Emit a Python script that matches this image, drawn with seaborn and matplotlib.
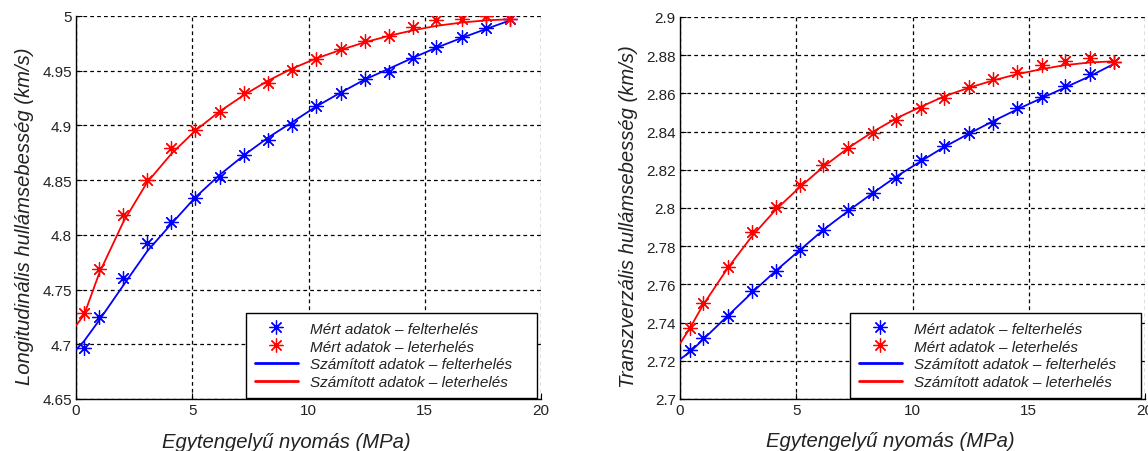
import matplotlib
matplotlib.use("Agg")
import matplotlib.pyplot as plt
from matplotlib.lines import Line2D
import numpy as np
import pandas as pd
import seaborn as sns

# --- Longitudinal wave velocity (km/s) vs. uniaxial pressure (MPa) ---
p_long = [0.35, 1.0, 2.04, 3.06, 4.1, 5.12, 6.19, 7.24, 8.27, 9.30,
          10.31, 11.38, 12.43, 13.48, 14.51, 15.5, 16.59, 17.62, 18.67]
vp_load_meas = [4.697, 4.725, 4.761, 4.793, 4.812, 4.834, 4.853, 4.873, 4.887, 4.900,
                4.918, 4.930, 4.942, 4.949, 4.962, 4.972, 4.981, 4.989, 4.997]
vp_unload_meas = [4.729, 4.769, 4.818, 4.850, 4.879, 4.896, 4.912, 4.930, 4.939, 4.951,
                  4.961, 4.970, 4.977, 4.982, 4.990, 4.996, 4.997, 5.000, 4.997]
p_long_calc = [0.0] + p_long
vp_load_calc = [4.695, 4.703, 4.722, 4.754, 4.785, 4.810, 4.834, 4.855, 4.873, 4.889, 4.903,
                4.917, 4.930, 4.942, 4.952, 4.962, 4.971, 4.980, 4.988, 4.996]
vp_unload_calc = [4.717, 4.727, 4.765, 4.812, 4.848, 4.874, 4.895, 4.913, 4.928, 4.941, 4.952,
                  4.961, 4.969, 4.976, 4.982, 4.987, 4.991, 4.994, 4.996, 4.997]

# --- Transverse wave velocity (km/s) vs. uniaxial pressure (MPa) ---
p_trans = [0.42, 0.98, 2.05, 3.08, 4.11, 5.16, 6.16, 7.24, 8.31, 9.31,
           10.36, 11.37, 12.44, 13.47, 14.48, 15.55, 16.55, 17.63, 18.67]
vs_load_meas = [2.7255, 2.7321, 2.7434, 2.7565, 2.7669, 2.7782, 2.7886, 2.7991, 2.8078, 2.8159,
                2.8249, 2.8322, 2.8395, 2.8443, 2.8521, 2.8582, 2.8640, 2.8704, 2.8765]
vs_unload_meas = [2.7373, 2.7504, 2.7690, 2.7873, 2.8003, 2.8120, 2.8226, 2.8316, 2.8395, 2.8460,
                  2.8525, 2.8577, 2.8631, 2.8678, 2.8713, 2.8747, 2.8768, 2.8786, 2.8765]
p_trans_calc = [0.0] + p_trans
vs_load_calc = [2.7208, 2.7245, 2.7310, 2.7435, 2.7555, 2.7670, 2.7780, 2.7885, 2.7985, 2.8080,
                2.8165, 2.8245, 2.8320, 2.8390, 2.8455, 2.8515, 2.8575, 2.8630, 2.8690, 2.8755]
vs_unload_calc = [2.7290, 2.7370, 2.7490, 2.7685, 2.7850, 2.7990, 2.8110, 2.8215, 2.8315, 2.8400,
                  2.8470, 2.8530, 2.8585, 2.8630, 2.8668, 2.8700, 2.8727, 2.8748, 2.8762, 2.8768]

x_ticks = [0, 5, 10, 15, 20]
y_ticks_long = [4.65, 4.7, 4.75, 4.8, 4.85, 4.9, 4.95, 5.0]
y_ticks_long_lbl = ["4.65", "4.7", "4.75", "4.8", "4.85", "4.9", "4.95", "5"]
y_ticks_trans = [2.70, 2.72, 2.74, 2.76, 2.78, 2.80, 2.82, 2.84, 2.86, 2.88, 2.90]
y_ticks_trans_lbl = ["2.7", "2.72", "2.74", "2.76", "2.78", "2.8", "2.82", "2.84",
                     "2.86", "2.88", "2.9"]

x_label = "Egytengelyű nyomás (MPa)"
y_label_long = "Longitudinális hullámsebesség (km/s)"
y_label_trans = "Transzverzális hullámsebesség (km/s)"
legend_labels = ["Mért adatok – felterhelés", "Mért adatok – leterhelés",
                 "Számított adatok – felterhelés", "Számított adatok – leterhelés"]

sns.set_theme(style="white")
plt.rcParams["font.family"] = ["Liberation Sans", "DejaVu Sans"]

ASTERISK = (8, 2, 0)
TEXT_COLOR = "#222222"

fig = plt.figure(figsize=(11.48, 4.52), dpi=100)
ax1 = fig.add_axes([76 / 1148, 52 / 452, 465 / 1148, 383 / 452])
ax2 = fig.add_axes([680 / 1148, 52 / 452, 465 / 1148, 382 / 452])


def draw_panel(ax, p_meas, load_meas, unload_meas, p_calc, load_calc, unload_calc,
               ylim, yticks, yticklabels, ylabel):
    sns.lineplot(x=p_calc, y=load_calc, ax=ax, color="blue", linewidth=1.3,
                 sort=False, zorder=3)
    sns.lineplot(x=p_calc, y=unload_calc, ax=ax, color="red", linewidth=1.3,
                 sort=False, zorder=3)
    sns.scatterplot(x=p_meas, y=load_meas, ax=ax, marker=ASTERISK, s=100,
                    color="blue", edgecolor="blue", linewidth=0.9, zorder=4)
    sns.scatterplot(x=p_meas, y=unload_meas, ax=ax, marker=ASTERISK, s=100,
                    color="red", edgecolor="red", linewidth=0.9, zorder=4)

    ax.set_xlim(0, 20)
    ax.set_ylim(*ylim)
    ax.set_xticks(x_ticks)
    ax.set_xticklabels([str(t) for t in x_ticks])
    ax.set_yticks(yticks)
    ax.set_yticklabels(yticklabels)
    ax.grid(True, color="black", linestyle=(0, (3, 2.5)), linewidth=0.9)
    ax.set_axisbelow(True)
    for side in ("top", "right"):
        ax.spines[side].set_visible(False)
    for side in ("left", "bottom"):
        ax.spines[side].set_color("black")
        ax.spines[side].set_linewidth(1.0)
    ax.tick_params(axis="both", direction="in", length=4, width=0.8,
                   labelsize=11, labelcolor=TEXT_COLOR, color="black",
                   left=True, bottom=True, pad=3)
    ax.set_xlabel(x_label, fontsize=14.6, style="italic", color=TEXT_COLOR, labelpad=10)
    ax.xaxis.set_label_coords(0.453, -0.085)
    ax.xaxis.label.set_va("top")
    ax.set_ylabel(ylabel, fontsize=14.6, style="italic", color=TEXT_COLOR, labelpad=6)
    ax.yaxis.label.set_y(0.48)

    handles = [
        Line2D([], [], linestyle="none", marker=ASTERISK, markersize=10,
               color="blue", markeredgewidth=0.9),
        Line2D([], [], linestyle="none", marker=ASTERISK, markersize=10,
               color="red", markeredgewidth=0.9),
        Line2D([], [], color="blue", linewidth=2),
        Line2D([], [], color="red", linewidth=2),
    ]
    leg = ax.legend(handles, legend_labels, loc="lower left",
                    bbox_to_anchor=(0.366, 0.003, 0.626, 0.2), mode="expand",
                    fontsize=11, frameon=True, fancybox=False, framealpha=1,
                    edgecolor="black", handlelength=2.8, handletextpad=0.8,
                    labelspacing=0.25, borderaxespad=0.0, borderpad=0.56)
    leg.get_frame().set_linewidth(1.0)
    for t in leg.get_texts():
        t.set_style("italic")
        t.set_color(TEXT_COLOR)


draw_panel(ax1, p_long, vp_load_meas, vp_unload_meas, p_long_calc, vp_load_calc,
           vp_unload_calc, (4.65, 5.0), y_ticks_long, y_ticks_long_lbl, y_label_long)
draw_panel(ax2, p_trans, vs_load_meas, vs_unload_meas, p_trans_calc, vs_load_calc,
           vs_unload_calc, (2.70, 2.90), y_ticks_trans, y_ticks_trans_lbl, y_label_trans)

fig.savefig("out.png", dpi=100, facecolor="white")
